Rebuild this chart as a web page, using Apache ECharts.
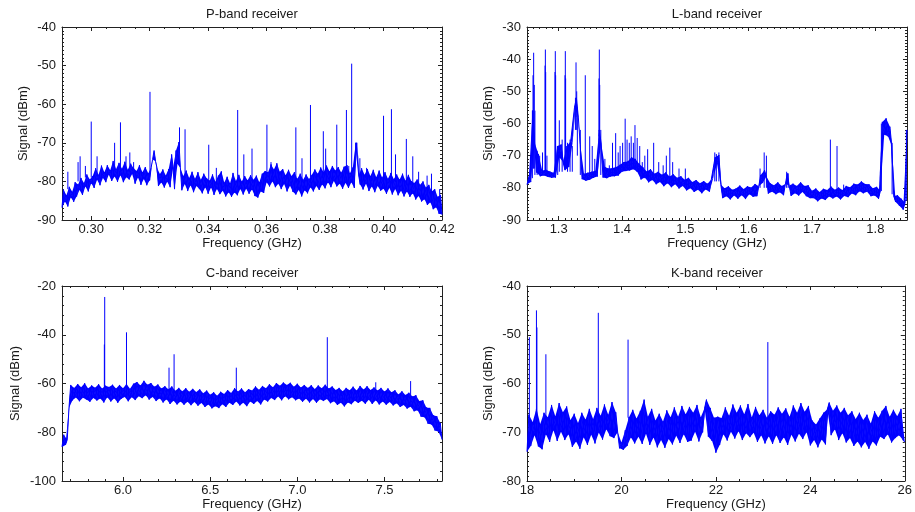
<!DOCTYPE html>
<html>
<head>
<meta charset="utf-8">
<script src="https://cdn.jsdelivr.net/npm/echarts@6/dist/echarts.min.js"></script>
<style>
html, body { margin: 0; padding: 0; background: #fff; }
#main { width: 915px; height: 512px; }
</style>
</head>
<body>
<div id="main"></div>
<script>
// ---- P-band: sweep 0.290 .. 0.420 GHz, one value every 0.0005 GHz (rows of 0.005 GHz)
var pStart = 0.29, pStep = 0.0005;
var pSignal = [
	-86.8,-82.1,-85.2,-83.6,-86.5,-81.4,-84.1,-82.7,-85.3,-80.2, // 0.290
	-83.9,-80.8,-82.2,-79.1,-83.5,-80.4,-81.3,-78.2,-82.6,-79.5, // 0.295
	-80.5,-78.6,-81.7,-76.6,-79.6,-78.3,-81.0,-75.9,-79.1,-77.6, // 0.300
	-80.2,-75.8,-78.3,-77.1,-79.9,-74.7,-78.7,-76.8,-80.1,-75.2, // 0.305
	-78.4,-76.7,-80.2,-74.9,-78.9,-77.0,-79.5,-75.4,-78.1,-76.6, // 0.310
	-80.6,-77.3,-79.0,-75.8,-80.9,-77.6,-79.4,-76.3,-81.0,-77.9, // 0.315
	-79.7,-76.4,-74.3,-72.0,-74.8,-76.5,-81.2,-78.1,-80.3,-76.9, // 0.320
	-81.6,-78.5,-80.1,-76.8,-81.5,-73.0,-76.5,-82.0,-72.0,-75.5, // 0.325
	-69.8,-76.5,-82.3,-78.6,-80.7,-77.2,-82.5,-79.1,-81.0,-77.5, // 0.330
	-82.8,-79.3,-81.2,-77.6,-82.0,-79.6,-83.1,-78.0,-81.5,-79.2, // 0.335
	-83.2,-79.8,-81.6,-78.2,-83.5,-80.1,-82.0,-78.5,-83.3,-77.4, // 0.340
	-82.4,-80.3,-83.9,-78.8,-82.8,-80.5,-84.0,-77.8,-82.9,-79.9, // 0.345
	-83.6,-78.3,-82.0,-80.0,-83.4,-78.6,-81.9,-79.7,-83.2,-78.4, // 0.350
	-82.1,-79.6,-83.8,-78.5,-84.2,-80.2,-82.6,-78.0,-83.0,-77.3, // 0.355
	-80.2,-77.6,-81.3,-75.6,-80.0,-76.9,-81.5,-75.3,-80.6,-77.5, // 0.360
	-82.0,-76.8,-80.7,-78.4,-82.6,-77.0,-81.1,-78.6,-82.7,-77.6, // 0.365
	-83.4,-79.3,-82.2,-78.0,-83.9,-79.6,-82.3,-78.2,-83.1,-79.4, // 0.370
	-81.5,-78.3,-82.6,-76.9,-81.2,-78.0,-82.2,-76.4,-80.8,-77.6, // 0.375
	-81.8,-75.9,-80.2,-77.4,-81.5,-76.0,-79.9,-77.2,-81.3,-76.3, // 0.380
	-80.6,-77.7,-81.9,-76.2,-80.4,-75.8,-81.7,-77.9,-80.2,-76.4, // 0.385
	-81.7,-70.0,-70.0,-78.4,-80.8,-76.6,-82.1,-78.3,-80.6,-76.8, // 0.390
	-82.5,-78.6,-81.3,-77.0,-82.8,-78.9,-81.2,-77.2,-82.4,-79.0, // 0.395
	-81.9,-77.6,-83.2,-79.3,-81.7,-77.8,-83.4,-79.4,-82.0,-78.2, // 0.400
	-83.6,-79.5,-82.4,-78.0,-83.9,-79.8,-82.6,-78.3,-84.0,-79.9, // 0.405
	-83.1,-80.4,-84.7,-79.5,-83.8,-80.9,-85.2,-80.0,-84.6,-81.6, // 0.410
	-86.1,-80.9,-85.4,-82.6,-87.2,-82.0,-86.7,-84.0,-88.4,-83.5, // 0.415
	-88.6                                                        // 0.420
];
var pSpikeFreq = [0.292,0.2955,0.2962,0.298,0.300,0.302,0.308,0.310,0.3119,0.3132,0.3145,0.3201,0.3302,0.3321,0.3402,0.3428,0.3501,0.3522,0.355,0.3601,0.3615,0.370,0.3721,0.375,0.3794,0.3802,0.384,0.3873,0.3881,0.3891,0.3919,0.3942,0.400,0.4027,0.4041,0.4078,0.410,0.412,0.4149,0.4164,0.4192];
var pSpikeTop = [-77.5,-75,-73.5,-76,-64.5,-73.5,-70,-64.7,-73.5,-72.5,-75,-56.8,-66,-66.5,-70.5,-76.5,-61.5,-73,-71.5,-65.3,-75,-66,-74,-60.2,-67,-71.5,-65.3,-61.5,-76,-49.5,-74,-76.5,-63,-61.3,-73,-69,-73.5,-77.5,-78.5,-78,-82];
var pSpikeBase = [-82,-80,-80,-79,-79,-78,-77,-77,-77,-77,-77,-78,-72,-79,-80,-80,-80,-80,-80,-78,-78,-79,-80,-79,-78,-78,-78,-78,-78,-78,-79,-79,-80,-80,-80,-80,-81,-81,-83,-84,-85];
var pTicksX = [0.30,0.32,0.34,0.36,0.38,0.40,0.42];
var pTicksY = [-90,-80,-70,-60,-50,-40];

// ---- L-band: sweep 1.250 .. 1.850 GHz, one value every 0.003 GHz (rows of 0.03 GHz)
var lStart = 1.25, lStep = 0.003;
var lSignal = [
	-79.0,-76.5,-78.2,-56.0,-66.0,-75.2,-69.5,-76.4,-74.6,-76.2, // 1.25
	-74.4,-76.6,-74.9,-76.9,-75.3,-76.8,-67.0,-70.5,-66.5,-72.0, // 1.28
	-74.5,-67.0,-73.5,-65.5,-66.0,-55.0,-52.0,-58.0,-66.5,-77.3, // 1.31
	-75.6,-77.8,-75.3,-77.5,-75.0,-76.9,-74.7,-76.5,-62.0,-66.0, // 1.34
	-76.8,-73.5,-77.0,-74.0,-76.5,-73.8,-76.4,-73.5,-76.2,-72.8, // 1.37
	-75.0,-72.0,-74.8,-71.8,-74.6,-70.5,-74.2,-71.0,-75.0,-72.5, // 1.40
	-77.4,-73.6,-76.8,-74.9,-78.3,-74.2,-77.6,-75.6,-78.9,-75.0, // 1.43
	-78.2,-75.9,-79.5,-75.2,-78.6,-76.5,-79.8,-75.8,-78.9,-76.9, // 1.46
	-80.2,-76.4,-79.4,-77.5,-80.8,-76.9,-80.1,-78.2,-81.3,-77.6, // 1.49
	-80.6,-78.6,-81.7,-77.9,-80.5,-78.7,-81.2,-77.4,-77.0,-70.5, // 1.52
	-72.5,-69.8,-79.0,-83.2,-80.1,-82.6,-79.5,-83.6,-80.6,-82.4, // 1.55
	-80.2,-83.4,-79.3,-82.3,-80.4,-83.5,-79.5,-82.0,-79.9,-82.8, // 1.58
	-78.8,-82.6,-79.5,-76.0,-78.5,-74.5,-76.5,-81.8,-78.6,-81.2, // 1.61
	-79.2,-82.0,-78.3,-81.4,-79.4,-82.3,-78.8,-75.5,-79.3,-82.5, // 1.64
	-78.7,-81.7,-79.4,-82.4,-78.3,-81.3,-79.4,-82.6,-79.2,-83.2, // 1.67
	-80.9,-83.2,-80.2,-84.2,-81.3,-83.3,-80.3,-83.8,-80.7,-82.7, // 1.70
	-79.6,-83.3,-80.6,-82.7,-79.9,-83.6,-80.7,-82.5,-79.4,-82.9, // 1.73
	-79.8,-81.8,-78.7,-82.3,-79.0,-81.1,-78.0,-81.7,-78.8,-81.2, // 1.76
	-78.9,-82.6,-80.1,-82.4,-79.7,-83.4,-80.9,-59.5,-63.5,-58.4, // 1.79
	-64.0,-61.0,-67.0,-82.5,-84.4,-82.3,-85.6,-83.4,-86.8,-84.6, // 1.82
	-62.0                                                        // 1.85
];
var lSpikeFreq = [1.2585,1.2595,1.2605,1.2615,1.2625,1.266,1.270,1.2745,1.2785,1.279,1.2795,1.2815,1.2942,1.2947,1.2952,1.2985,1.301,1.3055,1.3100,1.3105,1.3110,1.314,1.318,1.3215,1.3265,1.3274,1.3285,1.3295,1.3342,1.342,1.349,1.353,1.357,1.3637,1.3642,1.3648,1.3665,1.373,1.380,1.385,1.390,1.394,1.397,1.401,1.405,1.408,1.4115,1.4145,1.418,1.4205,1.424,1.428,1.432,1.436,1.4405,1.450,1.458,1.465,1.470,1.4755,1.480,1.490,1.500,1.5465,1.549,1.553,1.618,1.6245,1.628,1.660,1.6625,1.729,1.7395,1.750,1.770,1.8095,1.8265,1.849];
var lSpikeTop = [-56,-45,-38,-48,-56,-68.5,-70,-69,-42,-37,-44,-70,-44,-37.5,-45,-67,-59,-65,-45,-37.5,-46,-66,-65,-67,-52,-41,-50,-55,-62,-45,-64,-67,-71,-46,-37,-48,-62,-71,-73,-66,-63,-69,-67,-66,-58.5,-65,-66,-64,-66,-60.5,-64.5,-67,-72,-70,-68,-66,-72,-73,-70,-67.5,-72,-74,-74,-69,-69.5,-69,-74,-69,-70,-75,-75.5,-65,-67,-79,-79,-60,-66,-62];
var lSpikeBase = [-77,-74,-74,-74,-76,-76,-76,-76,-75,-75,-75,-76,-75,-75,-75,-76,-75,-75,-74,-74,-74,-75,-75,-75,-62,-58,-62,-70,-76,-76,-76,-76,-76,-64,-64,-64,-76,-76,-76,-76,-76,-76,-75,-74,-74,-74,-74,-74,-74,-74,-75,-76,-77,-77,-77,-77,-78,-78,-78,-78,-78,-79,-79,-78,-78,-78,-80,-80,-80,-80,-80,-81,-81,-81,-80,-81,-82,-84];
var lTicksX = [1.3,1.4,1.5,1.6,1.7,1.8];
var lTicksY = [-90,-80,-70,-60,-50,-40,-30];

// ---- C-band: sweep 5.65 .. 7.83 GHz, one value every 0.01 GHz (rows of 0.1 GHz)
var cStart = 5.65, cStep = 0.01;
var cSignal = [
	-86.0,-81.0,-85.2,-83.1,-70.0,-60.6,-66.9,-61.8,-65.7,-60.2, // 5.65
	-67.3,-61.5,-65.8,-59.9,-66.6,-62.0,-67.5,-60.8,-65.9,-61.7, // 5.75
	-67.0,-60.3,-66.2,-62.1,-67.8,-60.9,-65.6,-61.4,-67.4,-60.5, // 5.85
	-66.0,-62.0,-67.9,-60.6,-66.3,-61.9,-65.5,-60.2,-67.3,-62.2, // 5.95
	-65.6,-60.1,-66.8,-59.4,-65.2,-60.8,-66.0,-58.9,-64.8,-60.5, // 6.05
	-66.6,-59.8,-65.5,-61.3,-67.2,-60.4,-66.1,-62.0,-67.8,-61.1, // 6.15
	-66.5,-62.4,-68.4,-61.2,-67.1,-63.0,-68.6,-61.8,-67.4,-63.2, // 6.25
	-68.7,-61.9,-67.5,-63.4,-68.9,-62.2,-67.6,-63.5,-69.1,-62.4, // 6.35
	-68.0,-64.0,-69.6,-62.9,-68.6,-64.6,-70.2,-63.6,-69.3,-65.0, // 6.45
	-70.1,-63.4,-68.5,-64.3,-69.6,-62.7,-67.9,-63.9,-68.8,-61.9, // 6.55
	-67.4,-63.3,-69.0,-62.0,-67.9,-63.6,-69.3,-62.3,-67.4,-62.9, // 6.65
	-68.4,-61.2,-67.2,-62.6,-68.6,-61.0,-66.6,-61.9,-67.4,-60.3, // 6.75
	-65.9,-61.5,-66.8,-59.8,-65.3,-60.9,-66.9,-59.6,-65.2,-60.6, // 6.85
	-66.5,-59.7,-65.6,-61.3,-66.9,-60.1,-66.2,-61.6,-67.5,-60.6, // 6.95
	-66.3,-61.8,-67.8,-60.7,-66.4,-62.3,-67.9,-60.8,-66.5,-61.9, // 7.05
	-67.2,-60.5,-66.4,-62.0,-68.1,-61.2,-67.3,-62.7,-68.8,-61.8, // 7.15
	-67.9,-63.2,-69.4,-61.8,-67.8,-62.8,-68.5,-61.3,-67.1,-62.9, // 7.25
	-68.0,-61.0,-67.1,-62.5,-68.3,-61.1,-66.7,-62.7,-68.4,-61.6, // 7.35
	-66.9,-62.9,-68.6,-61.8,-67.4,-63.3,-68.7,-62.0,-67.6,-63.6, // 7.45
	-69.0,-62.8,-68.1,-64.5,-69.6,-63.2,-68.8,-64.7,-70.3,-63.8, // 7.55
	-69.5,-65.3,-71.4,-64.8,-71.0,-67.2,-73.6,-66.9,-73.8,-69.8, // 7.65
	-76.5,-70.0,-76.8,-73.0,-79.3,-73.4,-79.8,-76.2,-83.0        // 7.75
];
var cSpikeFreq = [5.893,5.895,6.02,6.264,6.293,6.65,7.172,7.45,7.65];
var cSpikeTop = [-44,-24.5,-39,-53.5,-48,-53.5,-41,-59.5,-59];
var cSpikeBase = [-62,-62,-62,-63,-63,-64,-62,-63,-65];
var cTicksX = [6.0,6.5,7.0,7.5];
var cTicksY = [-100,-80,-60,-40,-20];

// ---- K-band: sweep 18 .. 26 GHz, one value every 0.04 GHz (rows of 0.4 GHz)
var kStart = 18, kStep = 0.04;
var kSignal = [
	-74.0,-66.4,-72.8,-67.9,-70.6,-65.2,-72.9,-68.3,-73.5,-66.0, // 18.0
	-70.4,-66.9,-72.0,-64.4,-69.6,-66.7,-71.8,-64.0,-69.9,-65.9, // 18.4
	-71.6,-64.7,-70.4,-67.5,-73.0,-66.2,-71.9,-68.1,-73.4,-66.0, // 18.8
	-71.0,-67.4,-72.6,-65.2,-70.5,-67.3,-72.3,-65.0,-70.1,-66.6, // 19.2
	-71.5,-64.3,-69.4,-66.4,-70.8,-63.8,-71.2,-65.9,-70.0,-73.3, // 19.6
	-72.1,-73.6,-69.6,-72.8,-66.9,-71.0,-65.4,-72.3,-67.2,-70.9, // 20.0
	-65.6,-72.4,-63.3,-70.3,-66.8,-72.6,-65.2,-71.1,-67.6,-73.1, // 20.4
	-66.2,-71.6,-67.8,-73.2,-65.5,-71.4,-66.9,-72.5,-64.9,-70.7, // 20.8
	-66.8,-72.2,-64.6,-70.4,-66.3,-72.0,-64.8,-71.7,-66.0,-69.9, // 21.2
	-64.4,-71.9,-66.9,-70.0,-65.1,-63.3,-70.9,-65.0,-71.8,-67.0, // 21.6
	-74.2,-66.8,-72.6,-67.1,-70.4,-64.9,-71.7,-66.6,-69.9,-64.3, // 22.0
	-71.3,-66.0,-69.8,-64.5,-71.6,-66.3,-70.2,-64.2,-71.0,-66.9, // 22.4
	-70.1,-64.8,-72.0,-66.5,-70.6,-65.4,-72.3,-67.0,-70.8,-65.7, // 22.8
	-72.4,-66.4,-70.6,-64.9,-72.2,-66.2,-71.0,-65.1,-72.6,-66.8, // 23.2
	-70.5,-64.5,-71.9,-66.0,-70.3,-64.0,-71.4,-65.8,-70.0,-64.6, // 23.6
	-72.7,-67.6,-71.6,-68.4,-73.1,-67.2,-71.5,-66.0,-72.5,-65.3, // 24.0
	-63.9,-70.6,-65.6,-69.4,-64.5,-71.6,-66.0,-70.2,-65.0,-72.1, // 24.4
	-66.5,-71.2,-65.7,-72.8,-67.3,-71.9,-66.0,-73.1,-67.5,-72.0, // 24.8
	-66.4,-73.4,-68.2,-71.9,-65.7,-72.7,-67.0,-70.9,-65.6,-71.4, // 25.2
	-64.6,-70.4,-66.8,-72.1,-65.4,-71.2,-66.7,-70.6,-65.2,-71.6, // 25.6
	-72.0                                                        // 26.0
];
var kSpikeFreq = [18.05,18.2,18.21,18.4,19.51,20.14,23.1];
var kSpikeTop = [-50.5,-45,-48.5,-54,-45.5,-51,-51.5];
var kSpikeBase = [-68,-67,-67,-67,-66,-67,-67];
var kTicksX = [18,20,22,24,26];
var kTicksY = [-80,-70,-60,-50,-40];

var textColor = '#1a1a1a';
var frameColor = '#222';
var traceColor = '#0000ff';
var fontFamily = "'Liberation Sans', Arial, Helvetica, sans-serif";

// minor tick positions between min and max
function tickList(min, max, step) {
	var out = [];
	for (var k = Math.ceil(min / step - 1e-6); k * step <= max + 1e-9; k++) {
		out.push(Math.round(k * step * 1e6) / 1e6);
	}
	return out;
}

// 4 axes for one dimension: main side (labels), main side minor, mirror side, mirror side minor
function axisSet(gridIndex, isX, min, max, major, minorStep, dec, nameText, nameGap) {
	var sides = isX ? ['bottom', 'top'] : ['left', 'right'];
	var minor = tickList(min, max, minorStep);
	var list = [];
	for (var i = 0; i < 2; i++) {
		var first = (i === 0);
		list.push({
			gridIndex : gridIndex,
			type : 'value',
			min : min,
			max : max,
			position : sides[i],
			name : first ? nameText : '',
			nameLocation : 'middle',
			nameGap : nameGap,
			nameTextStyle : { fontSize : 13, color : textColor, fontFamily : fontFamily },
			axisLine : { show : true, onZero : false, lineStyle : { color : frameColor, width : 1 } },
			axisTick : { show : true, inside : true, length : 4, customValues : major, lineStyle : { color : frameColor, width : 1 } },
			axisLabel : {
				show : first,
				customValues : major,
				margin : isX ? 3 : 6,
				fontSize : 13,
				color : textColor,
				fontFamily : fontFamily,
				formatter : function(v) { return Number(v).toFixed(dec); }
			},
			splitLine : { show : false }
		});
		list.push({
			gridIndex : gridIndex,
			type : 'value',
			min : min,
			max : max,
			position : sides[i],
			axisLine : { show : false, onZero : false },
			axisTick : { show : true, inside : true, length : 2, customValues : minor, lineStyle : { color : frameColor, width : 1 } },
			axisLabel : { show : false },
			splitLine : { show : false }
		});
	}
	return list;
}

// fill the little gaps of the zig-zag trace: triangle through each point and its two neighbours
function bandRenderer(points) {
	return function(params, api) {
		var i = params.dataIndex;
		if (i === 0 || i >= points.length - 1) {
			return { type : 'group', children : [] };
		}
		return {
			type : 'polygon',
			shape : { points : [api.coord(points[i - 1]), api.coord(points[i]), api.coord(points[i + 1])] },
			style : { fill : traceColor, stroke : null }
		};
	};
}

var panels = [
	{ title : 'P-band receiver', grid : [62, 27, 380, 193], start : pStart, step : pStep, signal : pSignal,
	  sf : pSpikeFreq, st : pSpikeTop, sb : pSpikeBase, xr : [0.29, 0.42], xt : pTicksX, xm : 0.005, xd : 2,
	  yr : [-90, -40], yt : pTicksY, ym : 1, xGap : 17, yGap : 32 },
	{ title : 'L-band receiver', grid : [527, 27, 380, 193], start : lStart, step : lStep, signal : lSignal,
	  sf : lSpikeFreq, st : lSpikeTop, sb : lSpikeBase, xr : [1.25, 1.85], xt : lTicksX, xm : 0.01, xd : 1,
	  yr : [-90, -30], yt : lTicksY, ym : 1, xGap : 17, yGap : 32 },
	{ title : 'C-band receiver', grid : [62, 286, 380, 195], start : cStart, step : cStep, signal : cSignal,
	  sf : cSpikeFreq, st : cSpikeTop, sb : cSpikeBase, xr : [5.65, 7.83], xt : cTicksX, xm : 0.1, xd : 1,
	  yr : [-100, -20], yt : cTicksY, ym : 4, xGap : 14, yGap : 40 },
	{ title : 'K-band receiver', grid : [527, 286, 380, 195], start : kStart, step : kStep, signal : kSignal,
	  sf : kSpikeFreq, st : kSpikeTop, sb : kSpikeBase, xr : [18, 26], xt : kTicksX, xm : 0.5, xd : 0,
	  yr : [-80, -40], yt : kTicksY, ym : 1, xGap : 14, yGap : 32 }
];

var titles = [], grids = [], xAxes = [], yAxes = [], series = [];
for (var g = 0; g < panels.length; g++) {
	var p = panels[g];
	titles.push({
		text : p.title,
		left : p.grid[0] + p.grid[2] / 2,
		top : p.grid[1] - 19,
		textAlign : 'center',
		padding : 0,
		textStyle : { fontSize : 13, fontWeight : 'normal', color : textColor, fontFamily : fontFamily }
	});
	grids.push({ left : p.grid[0], top : p.grid[1], width : p.grid[2], height : p.grid[3], containLabel : false });
	xAxes = xAxes.concat(axisSet(g, true, p.xr[0], p.xr[1], p.xt, p.xm, p.xd, 'Frequency (GHz)', p.xGap));
	yAxes = yAxes.concat(axisSet(g, false, p.yr[0], p.yr[1], p.yt, p.ym, 0, 'Signal (dBm)', p.yGap));

	// noise floor trace
	var data = [];
	for (var i = 0; i < p.signal.length; i++) {
		data.push([p.start + i * p.step, p.signal[i]]);
	}
	// narrow carriers: vertical strokes, broken apart with empty points
	var spikes = [];
	for (var j = 0; j < p.sf.length; j++) {
		spikes.push([p.sf[j], p.sb[j]], [p.sf[j], p.st[j]], [p.sf[j], '-']);
	}
	series.push({
		type : 'custom',
		xAxisIndex : g * 4,
		yAxisIndex : g * 4,
		data : data,
		silent : true,
		clip : true,
		renderItem : bandRenderer(data)
	});
	series.push({
		type : 'line',
		xAxisIndex : g * 4,
		yAxisIndex : g * 4,
		data : data,
		symbol : 'none',
		silent : true,
		lineStyle : { color : traceColor, width : 1 }
	});
	series.push({
		type : 'line',
		xAxisIndex : g * 4,
		yAxisIndex : g * 4,
		data : spikes,
		symbol : 'none',
		silent : true,
		connectNulls : false,
		lineStyle : { color : traceColor, width : 1 }
	});
}

var myChart = echarts.init(document.getElementById('main'));
myChart.setOption({
	animation : false,
	backgroundColor : '#fff',
	title : titles,
	grid : grids,
	xAxis : xAxes,
	yAxis : yAxes,
	series : series
});
</script>
</body>
</html>
